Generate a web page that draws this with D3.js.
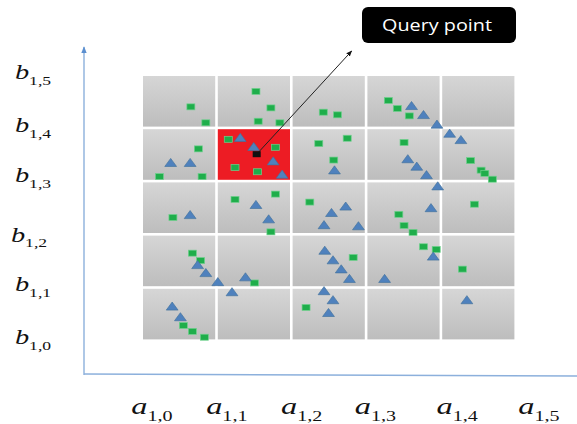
<!DOCTYPE html>
<html lang="en">
<head>
    <meta charset="UTF-8">
    <title>Grid Query</title>
    <script src="https://d3js.org/d3.v7.min.js"></script>
    <style>
        body { margin: 0; background: #fff; }
        .lbl { font-family: "Liberation Serif", "DejaVu Serif", serif; fill: #111; }
    </style>
</head>
<body>
    <div id="chart-container"></div>
    <script>
        // grid cells are indexed 0..4 in both directions, points are in grid units
        const xTicks = ["a", "a", "a", "a", "a", "a"];
        const xSubs = ["1,0", "1,1", "1,2", "1,3", "1,4", "1,5"];
        const yTicks = ["b", "b", "b", "b", "b", "b"];
        const ySubs = ["1,0", "1,1", "1,2", "1,3", "1,4", "1,5"];

        const queryCell = [1, 3];
        const queryPoint = [1.52, 3.53];
        const queryLabelAt = [2.79, 5.47];
        const queryText = "Query point";

        const greenX = [0.64, 0.84, 1.51, 1.71, 1.54, 1.83, 2.35, 2.41, 2.60, 3.28, 3.40, 3.56,
            0.74, 0.22, 0.79, 1.14, 1.77, 1.23, 1.53, 4.38, 4.52, 4.57, 4.67, 2.73, 2.55, 3.49,
            0.40, 1.23, 1.77, 1.71, 2.23, 0.66, 0.77, 1.49, 0.54, 0.66, 0.82, 2.18,
            3.42, 3.49, 3.61, 4.43, 2.81, 3.75, 3.92, 4.27];
        const greenY = [4.42, 4.12, 4.71, 4.40, 4.15, 4.12, 3.73, 4.32, 4.27, 4.54, 4.39, 4.25,
            3.63, 3.11, 3.11, 3.81, 3.66, 3.28, 3.20, 3.41, 3.23, 3.17, 3.06, 3.83, 3.42, 3.75,
            2.34, 2.68, 2.78, 2.07, 2.63, 1.67, 1.53, 1.11, 0.31, 0.20, 0.09, 0.65,
            2.40, 2.19, 2.06, 2.59, 1.59, 1.79, 1.74, 1.37];

        const blueX = [0.37, 0.63, 1.30, 1.48, 1.74, 1.86, 3.59, 3.75, 3.93, 4.10, 4.25, 2.56,
            3.54, 3.66, 3.79, 3.94, 0.63, 1.51, 1.68, 2.42, 2.71, 2.52, 2.88, 3.85,
            0.73, 0.84, 1.00, 1.37, 2.43, 2.54, 2.65, 2.76, 3.88, 3.23,
            0.39, 0.50, 1.19, 2.42, 2.54, 2.48, 4.33];
        const blueY = [3.35, 3.35, 3.82, 3.65, 3.38, 3.13, 4.42, 4.25, 4.07, 3.90, 3.78, 3.21,
            3.42, 3.28, 3.12, 2.91, 2.37, 2.56, 2.29, 2.18, 2.53, 2.41, 2.16, 2.50,
            1.43, 1.28, 1.11, 1.20, 1.70, 1.52, 1.35, 1.17, 1.59, 1.17,
            0.65, 0.45, 0.92, 0.94, 0.77, 0.53, 0.77];

        const W = 577, H = 424;
        const gap = 2.6;

        const svg = d3.select("#chart-container")
            .append("svg")
            .attr("width", W)
            .attr("height", H);

        const x = d3.scaleLinear().domain([0, 5]).range([143, 517]);
        const y = d3.scaleLinear().domain([0, 5]).range([342, 76]);

        const defs = svg.append("defs");
        const grad = defs.append("linearGradient")
            .attr("id", "cellGrad")
            .attr("x1", 0).attr("y1", 0).attr("x2", 0).attr("y2", 1);
        grad.append("stop").attr("offset", "0%").attr("stop-color", "#d6d6d6");
        grad.append("stop").attr("offset", "100%").attr("stop-color", "#bdbdbd");

        defs.append("marker")
            .attr("id", "blackHead")
            .attr("viewBox", "0 0 10 10")
            .attr("refX", 9).attr("refY", 5)
            .attr("markerWidth", 6).attr("markerHeight", 6)
            .attr("orient", "auto")
            .append("path")
            .attr("d", "M0,1 L10,5 L0,9 Z")
            .attr("fill", "#111");

        defs.append("marker")
            .attr("id", "blueHead")
            .attr("viewBox", "0 0 10 10")
            .attr("refX", 9).attr("refY", 5)
            .attr("markerWidth", 5).attr("markerHeight", 5)
            .attr("orient", "auto")
            .append("path")
            .attr("d", "M0,1 L10,5 L0,9 Z")
            .attr("fill", "#5b8fd0");

        // axes
        svg.append("line")
            .attr("x1", 84).attr("y1", 375)
            .attr("x2", 84).attr("y2", 47)
            .attr("stroke", "#8cb0dc").attr("stroke-width", 1.4)
            .attr("marker-end", "url(#blueHead)");
        svg.append("line")
            .attr("x1", 84).attr("y1", 374)
            .attr("x2", W).attr("y2", 376)
            .attr("stroke", "#8cb0dc").attr("stroke-width", 1.4);

        // grid cells
        const cells = [];
        for (let c = 0; c < 5; c++) {
            for (let r = 0; r < 5; r++) cells.push([c, r]);
        }
        svg.selectAll(".cell")
            .data(cells)
            .enter()
            .append("rect")
            .attr("class", "cell")
            .attr("x", d => x(d[0]))
            .attr("y", d => y(d[1] + 1))
            .attr("width", d => x(d[0] + 1) - x(d[0]) - gap)
            .attr("height", d => y(d[1]) - y(d[1] + 1) - gap)
            .attr("fill", d => (d[0] === queryCell[0] && d[1] === queryCell[1]) ? "#ed1c24" : "url(#cellGrad)");

        // points
        const greens = greenX.map((v, i) => [v, greenY[i]]);
        const blues = blueX.map((v, i) => [v, blueY[i]]);

        svg.selectAll(".green")
            .data(greens)
            .enter()
            .append("rect")
            .attr("class", "green")
            .attr("x", d => x(d[0]) - 4)
            .attr("y", d => y(d[1]) - 3)
            .attr("width", 8)
            .attr("height", 6)
            .attr("fill", "#1fae4b")
            .attr("stroke", "#6fd08d")
            .attr("stroke-width", 0.7);

        const tri = d3.symbol(d3.symbolTriangle).size(42);
        svg.selectAll(".blue")
            .data(blues)
            .enter()
            .append("path")
            .attr("class", "blue")
            .attr("transform", d => `translate(${x(d[0])},${y(d[1])}) scale(1.2,0.95)`)
            .attr("d", tri)
            .attr("fill", "#4f81bd")
            .attr("stroke", "#41719c")
            .attr("stroke-width", 0.6);

        // query point and pointer
        svg.append("line")
            .attr("x1", x(queryPoint[0])).attr("y1", y(queryPoint[1]))
            .attr("x2", x(queryLabelAt[0])).attr("y2", y(queryLabelAt[1]))
            .attr("stroke", "#222").attr("stroke-width", 1)
            .attr("marker-end", "url(#blackHead)");
        svg.append("rect")
            .attr("x", x(queryPoint[0]) - 4)
            .attr("y", y(queryPoint[1]) - 3)
            .attr("width", 8).attr("height", 6)
            .attr("fill", "#111");

        svg.append("rect")
            .attr("x", 362).attr("y", 7)
            .attr("width", 154).attr("height", 36)
            .attr("rx", 6)
            .attr("fill", "#000");
        svg.append("text")
            .attr("x", 382).attr("y", 31)
            .attr("textLength", 110)
            .attr("lengthAdjust", "spacingAndGlyphs")
            .style("font-family", "'Open Sans', sans-serif")
            .style("font-size", "17px")
            .attr("fill", "#fff")
            .text(queryText);

        // tick labels
        function mathLabel(g, main, sub, size) {
            g.append("tspan")
                .style("font-style", "italic")
                .style("font-size", size + "px")
                .text(main);
            g.append("tspan")
                .attr("dy", size * 0.28)
                .style("font-size", (size * 0.62) + "px")
                .text(sub);
        }

        const xOffsets = [9, 9, 9, 8, 15, 22];
        xTicks.forEach((t, i) => {
            const g = svg.append("text")
                .attr("class", "lbl")
                .attr("text-anchor", "middle")
                .attr("transform", `translate(${x(i) + xOffsets[i]},${414}) scale(1.35,1)`);
            mathLabel(g, t, xSubs[i], 24);
        });

        const yOffsets = [4, 4, 0, 6, 3, 3];
        yTicks.forEach((t, i) => {
            const g = svg.append("text")
                .attr("class", "lbl")
                .attr("text-anchor", "middle")
                .attr("transform", `translate(${i === 2 ? 29 : 33},${y(i) - yOffsets[i] + 6}) scale(1.35,1)`);
            mathLabel(g, t, ySubs[i], 21);
        });
    </script>
</body>
</html>
